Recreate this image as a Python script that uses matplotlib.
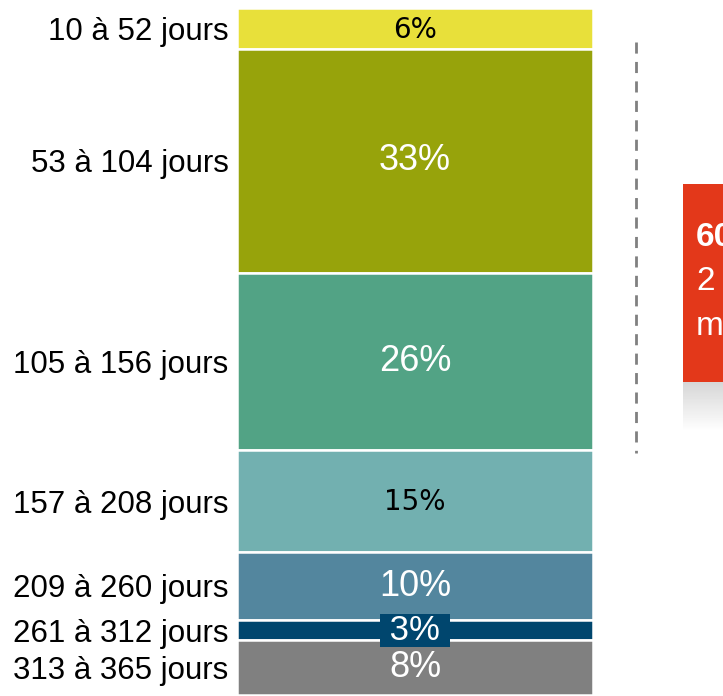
import matplotlib
matplotlib.use("Agg")
import matplotlib.pyplot as plt
import numpy as np
from matplotlib.patches import Rectangle
from matplotlib.lines import Line2D

plt.rcParams['font.family'] = ['Liberation Sans', 'DejaVu Sans']

categories = ["10 à 52 jours", "53 à 104 jours", "105 à 156 jours", "157 à 208 jours",
              "209 à 260 jours", "261 à 312 jours", "313 à 365 jours"]
values = [6, 33, 26, 15, 10, 3, 8]
labels = ["6%", "33%", "26%", "15%", "10%", "3%", "8%"]
colors = ["#E8E03A", "#97A30B", "#52A385", "#72B0B0", "#53869E", "#00466E", "#808080"]
label_colors = ["black", "white", "white", "black", "white", "white", "white"]

W, H = 723, 696
fig = plt.figure(figsize=(W / 100, H / 100), dpi=100)

# axes holding the stacked bar
left_px, right_px = 237, 593
ax = fig.add_axes([left_px / W, 0, (right_px - left_px) / W, 1])
px_per_pct = 6.8
top_px = 8
ytop = -top_px / px_per_pct
ybot = (H - top_px) / px_per_pct
ax.set_ylim(ybot, ytop)
ax.set_xlim(-0.5, 0.5)

bottoms = np.concatenate([[0], np.cumsum(values)[:-1]])
ax.bar(0, values, bottom=bottoms, width=1.0, color=colors, edgecolor="white", linewidth=1.8)

centers = bottoms + np.array(values) / 2
for c, lab, lc in zip(centers, labels, label_colors):
    if lab == "3%":
        ax.text(0, c, "\u00a0" + lab + "\u00a0", ha="center", va="center", color=lc, fontsize=25,
                bbox=dict(boxstyle="square,pad=0.0", facecolor="#00466E", edgecolor="none"))
    elif lc == "black":
        ax.text(0, c + 0.2, lab, ha="center", va="center", color=lc, fontsize=20,
                family="DejaVu Sans")
    else:
        ax.text(0, c, lab, ha="center", va="center", color=lc, fontsize=26)

ax.set_yticks(centers)
ax.set_yticklabels(categories, fontsize=22.5)
ax.tick_params(axis="y", length=0, pad=6)
ax.set_xticks([])
for s in ax.spines.values():
    s.set_visible(False)

# dashed separator
fig.add_artist(Line2D([636 / W, 636 / W], [1 - 42 / H, 1 - 453 / H], transform=fig.transFigure,
                      color="#808080", linestyle=(0, (4, 3)), linewidth=2))

# red callout box (partially cut off at the right edge)
fig.add_artist(Rectangle((683 / W, 1 - 382 / H), 60 / W, (382 - 184) / H,
                         transform=fig.transFigure, facecolor="#E3381A", edgecolor="none"))
# soft shadow under the box
sax = fig.add_axes([683 / W, 1 - 432 / H, 40 / W, 50 / H])
grad = np.linspace(0.84, 1.0, 50).reshape(-1, 1)
sax.imshow(np.repeat(grad, 2, axis=1), cmap="gray", vmin=0, vmax=1, aspect="auto")
sax.axis("off")

fig.text(696 / W, 1 - 238 / H, "60", color="white", fontsize=24, fontweight="bold", va="center")
fig.text(696 / W, 1 - 281 / H, "2", color="white", fontsize=24, va="center")
fig.text(696 / W, 1 - 326 / H, "m", color="white", fontsize=24, va="center")

fig.savefig("out.png", dpi=100)
